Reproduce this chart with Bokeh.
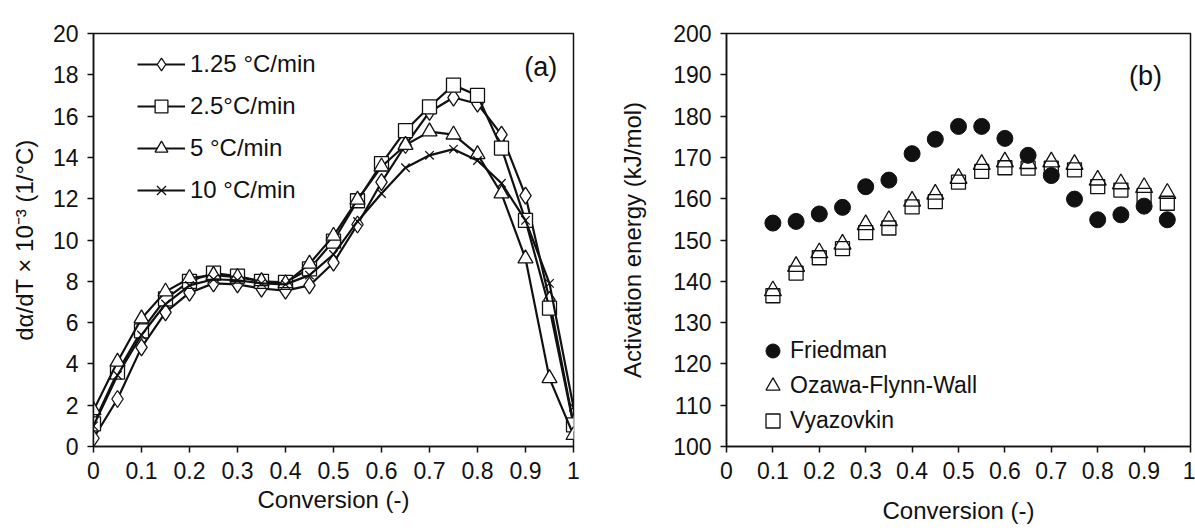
from bokeh.plotting import figure
from bokeh.layouts import row
from bokeh.models import FixedTicker, Legend, LegendItem, Label
from bokeh.embed import file_html
from bokeh.resources import INLINE

# ---------------- data ----------------
conv_a = [0.0, 0.05, 0.1, 0.15, 0.2, 0.25, 0.3, 0.35, 0.4, 0.45, 0.5,
          0.55, 0.6, 0.65, 0.7, 0.75, 0.8, 0.85, 0.9, 0.95, 1.0]
rate_125 = [0.4, 2.3, 4.8, 6.5, 7.45, 7.9, 7.85, 7.65, 7.55, 7.8, 8.9,
            10.75, 12.8, 14.6, 16.2, 16.9, 16.6, 15.1, 12.15, 7.1, 1.1]
rate_25 = [1.1, 3.6, 5.6, 7.15, 8.0, 8.4, 8.25, 8.0, 7.95, 8.6, 9.95,
           11.9, 13.7, 15.3, 16.45, 17.5, 17.0, 14.45, 10.95, 6.7, 1.05]
rate_5 = [1.75, 4.1, 6.2, 7.5, 8.15, 8.3, 8.2, 8.0, 7.9, 8.85, 10.2,
          11.95, 13.55, 14.6, 15.25, 15.1, 14.15, 12.25, 9.1, 3.3, 0.55]
rate_10 = [1.0, 3.45, 5.4, 6.9, 7.8, 8.1, 8.05, 7.9, 7.85, 8.3, 9.3,
           10.9, 12.25, 13.5, 14.1, 14.4, 13.85, 12.75, 10.95, 7.9, 1.9]
series_a_names = ["1.25 °C/min", "2.5°C/min", "5 °C/min", "10 °C/min"]

conv_b = [0.1, 0.15, 0.2, 0.25, 0.3, 0.35, 0.4, 0.45, 0.5, 0.55,
          0.6, 0.65, 0.7, 0.75, 0.8, 0.85, 0.9, 0.95]
friedman = [154.1, 154.5, 156.3, 157.9, 162.9, 164.5, 170.9, 174.4, 177.5, 177.5,
            174.6, 170.5, 165.6, 159.9, 154.9, 156.1, 158.2, 154.9]
ozawa = [137.7, 143.6, 146.9, 149.0, 153.7, 154.7, 159.4, 161.1, 164.9, 168.3,
         168.9, 168.5, 168.9, 168.3, 164.5, 163.6, 162.7, 161.3]
vyazovkin = [136.5, 142.0, 145.7, 147.9, 151.8, 152.9, 158.0, 159.3, 164.0, 166.6,
             167.5, 167.4, 167.4, 167.0, 162.9, 162.1, 160.8, 158.9]
series_b_names = ["Friedman", "Ozawa-Flynn-Wall", "Vyazovkin"]

x_ticks = [i / 10 for i in range(11)]
x_tick_labels = ["0", "0.1", "0.2", "0.3", "0.4", "0.5", "0.6", "0.7", "0.8", "0.9", "1"]
y_ticks_a = [0, 2, 4, 6, 8, 10, 12, 14, 16, 18, 20]
y_ticks_b = [100, 110, 120, 130, 140, 150, 160, 170, 180, 190, 200]

FONT = "Liberation Sans"
TICK_SIZE = "23px"
TITLE_SIZE = "24px"
INK = "#111111"


def style(p, xlab, ylab, yticks, ylab_standoff, xlab_standoff):
    p.xgrid.visible = False
    p.ygrid.visible = False
    p.outline_line_color = INK
    p.outline_line_width = 1.5
    p.background_fill_color = "white"
    p.border_fill_color = "white"
    p.xaxis.ticker = FixedTicker(ticks=x_ticks)
    p.xaxis.major_label_overrides = {t: l for t, l in zip(x_ticks, x_tick_labels)}
    p.yaxis.ticker = FixedTicker(ticks=yticks)
    for ax in (p.xaxis[0], p.yaxis[0]):
        ax.axis_line_color = INK
        ax.axis_line_width = 1.5
        ax.major_tick_line_color = INK
        ax.major_tick_line_width = 1.5
        ax.major_tick_in = 0
        ax.major_tick_out = 6
        ax.minor_tick_line_color = None
        ax.major_label_text_font = FONT
        ax.major_label_text_font_size = TICK_SIZE
        ax.major_label_text_color = INK
        ax.axis_label_text_font = FONT
        ax.axis_label_text_font_size = TITLE_SIZE
        ax.axis_label_text_font_style = "normal"
        ax.axis_label_text_color = INK
    p.xaxis.axis_label = xlab
    p.yaxis.axis_label = ylab
    p.xaxis.major_label_standoff = 9
    p.yaxis.major_label_standoff = 9
    p.yaxis.axis_label_standoff = ylab_standoff
    p.xaxis.axis_label_standoff = xlab_standoff


# ---------------- panel (a) ----------------
p1 = figure(width=600, height=532, x_range=(0, 1), y_range=(0, 20),
            output_backend="svg", toolbar_location=None,
            min_border_left=93, min_border_right=27,
            min_border_top=33, min_border_bottom=82)
style(p1, "Conversion (-)", "dα/dT × 10⁻³ (1/°C)", y_ticks_a, 12, 4)

markers_a = [("diamond", 17), ("square", 14), ("triangle", 15), ("x", 12)]
ys_a = [rate_125, rate_25, rate_5, rate_10]
items_a = []
for name, ys, (mk, sz) in zip(series_a_names, ys_a, markers_a):
    ln = p1.line(conv_a, ys, line_color=INK, line_width=2.2)
    sc = p1.scatter(conv_a, ys, marker=mk, size=sz,
                    line_color=INK, line_width=1.3, fill_color="white")
    items_a.append(LegendItem(label=name, renderers=[ln, sc]))

leg_a = Legend(items=items_a, location=(44, 240), orientation="vertical",
               glyph_width=48, glyph_height=32, spacing=10, label_height=20,
               label_standoff=5, padding=0, margin=0,
               border_line_color=None, background_fill_alpha=0,
               label_text_font=FONT, label_text_font_size="24px",
               label_text_color=INK)
p1.add_layout(leg_a, "center")
p1.add_layout(Label(x=0.932, y=18.4, text="(a)", text_align="center",
                    text_baseline="middle", text_font=FONT,
                    text_font_size="27px", text_color=INK))

# ---------------- panel (b) ----------------
p2 = figure(width=595, height=532, x_range=(0, 1), y_range=(100, 200),
            output_backend="svg", toolbar_location=None,
            min_border_left=126, min_border_right=5,
            min_border_top=21, min_border_bottom=86)
style(p2, "Conversion (-)", "Activation energy (kJ/mol)", y_ticks_b, 24, 15)

r_v = p2.scatter(conv_b, vyazovkin, marker="square", size=14,
                 line_color=INK, line_width=1.3, fill_alpha=0)
r_o = p2.scatter(conv_b, ozawa, marker="triangle", size=17,
                 line_color=INK, line_width=1.3, fill_alpha=0)
r_f = p2.scatter(conv_b, friedman, marker="circle", size=16,
                 line_color=INK, fill_color=INK)

leg_b = Legend(items=[LegendItem(label=series_b_names[0], renderers=[r_f]),
                      LegendItem(label=series_b_names[1], renderers=[r_o]),
                      LegendItem(label=series_b_names[2], renderers=[r_v])],
               location=(29, 8), orientation="vertical",
               glyph_width=35, glyph_height=35, spacing=0, label_height=20,
               label_standoff=0, padding=0, margin=0,
               border_line_color=None, background_fill_alpha=0,
               label_text_font=FONT, label_text_font_size="23px",
               label_text_color=INK)
p2.add_layout(leg_b, "center")
p2.add_layout(Label(x=0.903, y=189.6, text="(b)", text_align="center",
                    text_baseline="middle", text_font=FONT,
                    text_font_size="27px", text_color=INK))

layout = row(p1, p2)
open("out.html", "w").write(file_html(layout, INLINE))
